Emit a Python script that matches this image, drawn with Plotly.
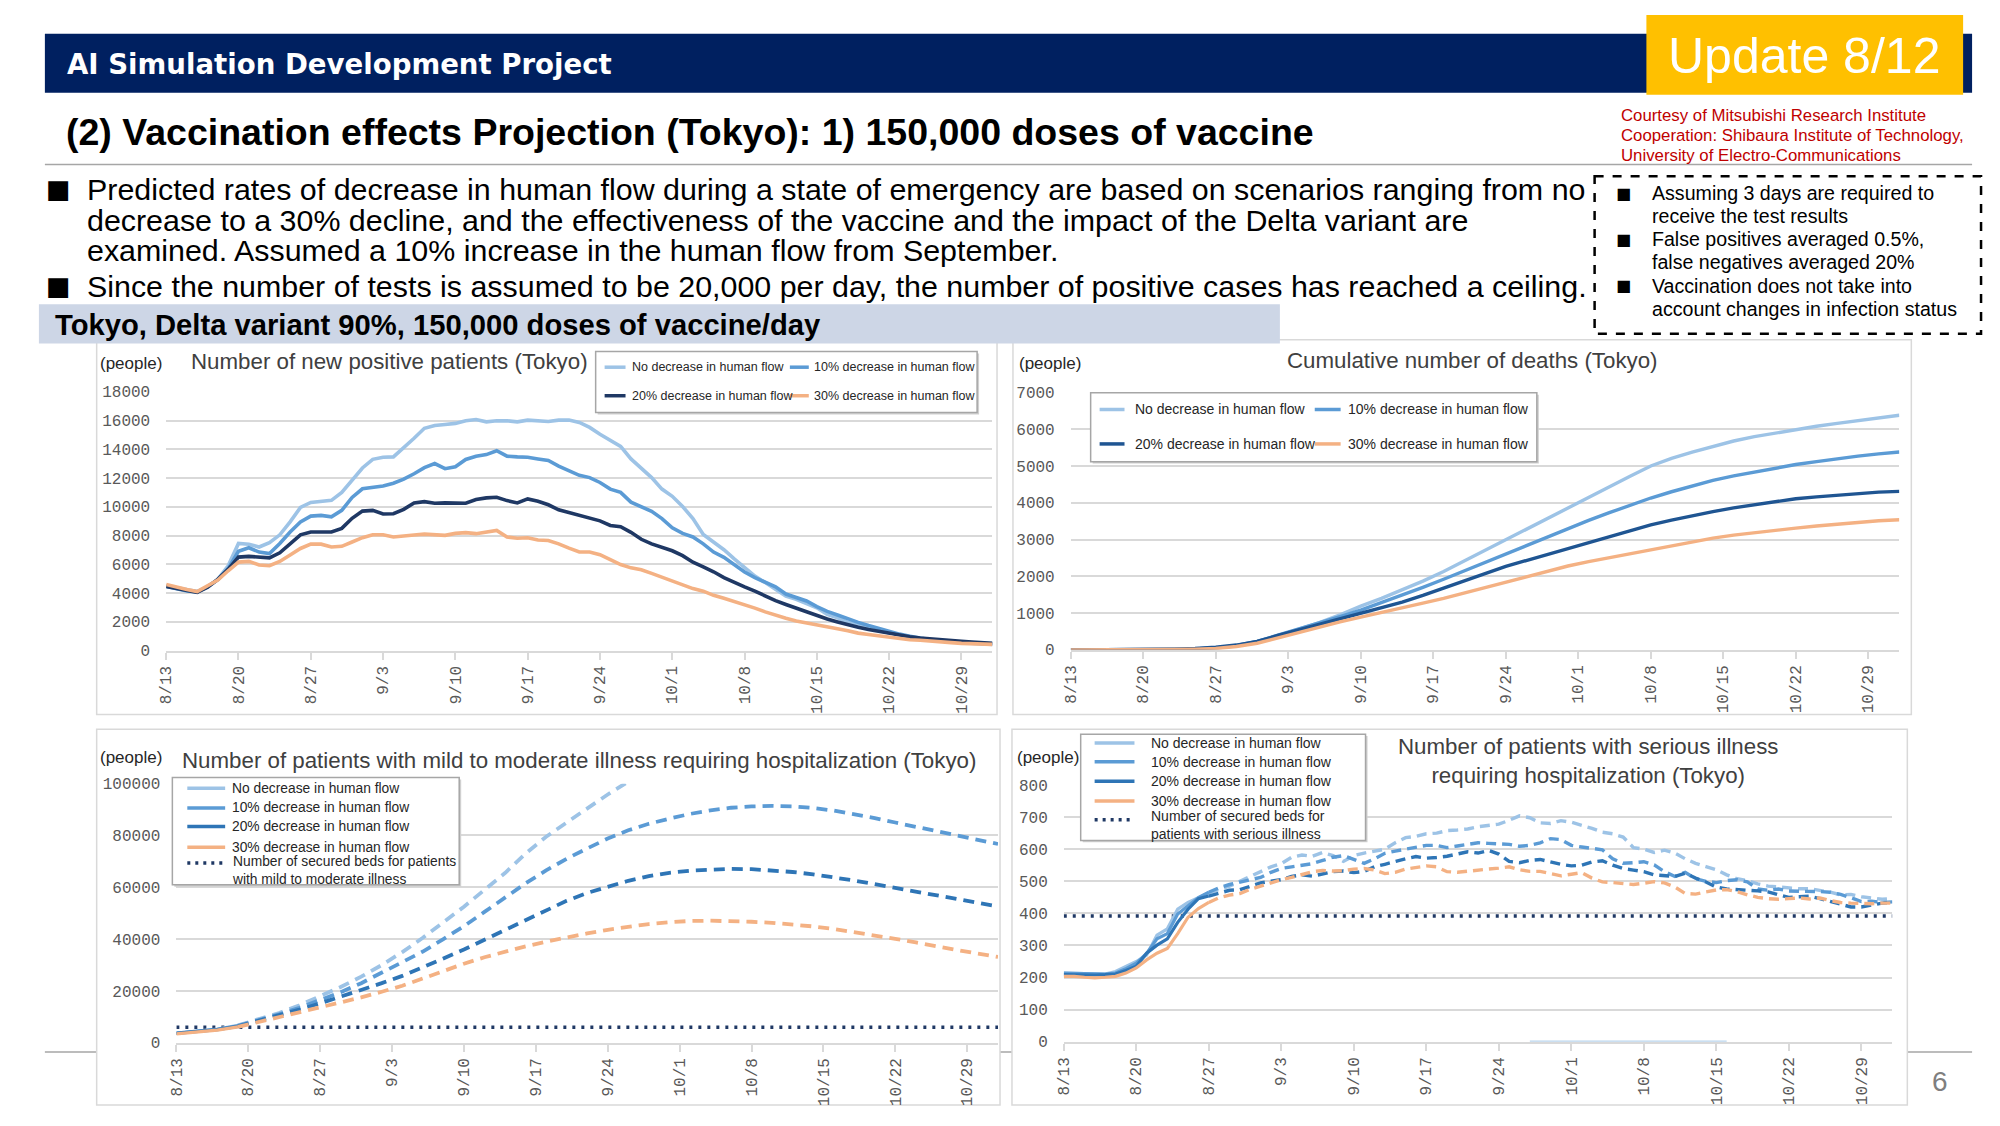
import pandas as pd
import plotly.graph_objects as go

# The page is photographed with the browser's default 8px body margin around the figure,
# so the figure is sized to fill the 2000x1126 window exactly together with that margin.
PAGE_MARGIN = 8
FIG_W, FIG_H = 2000 - 2 * PAGE_MARGIN, 1126 - 2 * PAGE_MARGIN


def px(x):
    return (x - PAGE_MARGIN) / FIG_W


def py(y):
    return 1 - (y - PAGE_MARGIN) / FIG_H


# ---------------- data ----------------
start_date = "2021-08-13"
dates_daily = pd.date_range(start_date, periods=81, freq="D")
dates_2day = pd.date_range(start_date, periods=41, freq="2D")
tick_dates = pd.date_range(start_date, periods=12, freq="7D")
tick_labels = ["8/13", "8/20", "8/27", "9/3", "9/10", "9/17", "9/24",
               "10/1", "10/8", "10/15", "10/22", "10/29"]

scenario_names = ["No decrease in human flow", "10% decrease in human flow",
                  "20% decrease in human flow", "30% decrease in human flow"]

# Chart 1: number of new positive patients (daily)
new_pos_no = [
    4500, 4350, 4200, 4100, 4450, 4950, 5900, 7450, 7400, 7200,
    7500, 8050, 8950, 9950, 10300, 10350, 10450, 11000, 11900, 12700,
    13300, 13450, 13470, 14090, 14770, 15460, 15660, 15730, 15800, 15980,
    16070, 15910, 15980, 15980, 15910, 16030, 15980, 15930, 16030, 16030,
    15870, 15520, 15040, 14590, 14200, 13330, 12650, 12030, 11230, 10730,
    10020, 9180, 8080, 7530, 7010, 6370, 5800, 5180, 4730, 4250,
    3790, 3560, 3240, 2970, 2510, 2280, 1960, 1760, 1550, 1390,
    1230, 1070, 940, 820, 730, 660, 590, 550, 500, 480,
    430]
new_pos_10 = [
    4450, 4300, 4150, 4080, 4400, 4950, 5700, 6900, 7150, 6850,
    6750, 7450, 8250, 8950, 9350, 9400, 9300, 9750, 10650, 11250,
    11350, 11450, 11640, 11920, 12300, 12720, 13010, 12650, 12780, 13290,
    13520, 13630, 13900, 13520, 13470, 13450, 13330, 13220, 12830, 12490,
    12190, 12030, 11690, 11230, 11000, 10320, 9980, 9680, 9180, 8540,
    8150, 7900, 7420, 6850, 6480, 5940, 5460, 5070, 4730, 4430,
    3930, 3680, 3450, 3060, 2720, 2470, 2190, 1960, 1740, 1530,
    1320, 1140, 1000, 870, 750, 680, 620, 570, 530, 500,
    460]
new_pos_20 = [
    4450, 4300, 4150, 4050, 4400, 4950, 5650, 6500, 6550, 6500,
    6450, 6800, 7450, 8050, 8250, 8250, 8250, 8500, 9200, 9700,
    9750, 9500, 9520, 9820, 10270, 10360, 10250, 10270, 10270, 10250,
    10500, 10620, 10660, 10430, 10270, 10550, 10390, 10140, 9790, 9590,
    9450, 9220, 9020, 8700, 8610, 8220, 7740, 7420, 7210, 6940,
    6600, 6140, 5820, 5480, 5070, 4730, 4430, 4130, 3790, 3470,
    3200, 2950, 2670, 2420, 2190, 1990, 1780, 1620, 1460, 1320,
    1190, 1070, 960, 870, 800, 730, 680, 640, 590, 550,
    500]
new_pos_30 = [
    4600, 4400, 4250, 4100, 4500, 4900, 5550, 6150, 6200, 5950,
    5900, 6200, 6650, 7100, 7400, 7400, 7200, 7250, 7550, 7850,
    8050, 8050, 7900, 7940, 8040, 8100, 8080, 8010, 8150, 8200,
    8130, 8260, 8360, 7900, 7810, 7850, 7690, 7650, 7420, 7120,
    6850, 6850, 6670, 6320, 5980, 5750, 5620, 5370, 5110, 4790,
    4540, 4310, 4130, 3840, 3630, 3420, 3200, 2950, 2690, 2440,
    2240, 2050, 1920, 1830, 1640, 1510, 1370, 1210, 1120, 1030,
    910, 820, 750, 710, 640, 590, 550, 500, 460, 460,
    430]

# Chart 2: cumulative number of deaths (every 2 days)
deaths_no = [0, 0, 2, 5, 10, 15, 25, 50, 110, 220,
             380, 560, 740, 950, 1190, 1400, 1630, 1870, 2130, 2420,
             2710, 3000, 3290, 3570, 3860, 4140, 4430, 4720, 5000, 5210,
             5380, 5540, 5680, 5800, 5900, 6000, 6080, 6160, 6240, 6320,
             6380]
deaths_10 = [0, 0, 2, 5, 10, 15, 25, 55, 120, 230,
             400, 560, 720, 900, 1080, 1280, 1480, 1700, 1920, 2150,
             2380, 2610, 2840, 3070, 3300, 3520, 3730, 3940, 4130, 4300,
             4460, 4610, 4730, 4840, 4940, 5040, 5120, 5200, 5270, 5330,
             5380]
deaths_20 = [0, 0, 2, 5, 10, 20, 35, 70, 130, 230,
             390, 540, 680, 830, 980, 1140, 1300, 1480, 1670, 1870,
             2070, 2270, 2430, 2600, 2760, 2920, 3080, 3240, 3400, 3530,
             3650, 3760, 3860, 3950, 4040, 4110, 4160, 4210, 4260, 4290,
             4310]
deaths_30 = [0, 0, 2, 5, 8, 12, 20, 35, 90, 180,
             330, 480, 620, 760, 890, 1010, 1130, 1270, 1400, 1550,
             1700, 1850, 2000, 2140, 2280, 2400, 2510, 2620, 2730, 2840,
             2940, 3040, 3120, 3190, 3250, 3310, 3370, 3420, 3470, 3510,
             3540]

# Chart 3: mild to moderate patients requiring hospitalization (every 2 days)
mild_no = [3700, 4500, 5300, 6700, 9000, 11500, 14500, 18000, 21500, 25500,
           30000, 35000, 40500, 46500, 52500, 59000, 65500, 73000, 79500, 85000,
           90500, 95800, 100800, None, None, None, None, None, None, None,
           None, None, None, None, None, None, None, None, None, None,
           None]
mild_10 = [3700, 4400, 5200, 6500, 8700, 11000, 13500, 16500, 19500, 23000,
           27000, 30800, 35200, 40000, 45000, 50500, 56000, 61500, 66500, 71000,
           75000, 78800, 82000, 84500, 86500, 88300, 89700, 90700, 91200, 91400,
           91200, 90600, 89600, 88200, 86700, 85000, 83300, 81600, 80000, 78300,
           76700]
mild_20 = [3600, 4300, 5100, 6300, 8400, 10500, 12800, 15200, 17700, 20300,
           23000, 25800, 29000, 32500, 36000, 39800, 43500, 47500, 51200, 54800,
           57800, 60300, 62500, 64300, 65600, 66400, 66900, 67100, 67000, 66600,
           65900, 65000, 63900, 62600, 61200, 59800, 58300, 56800, 55300, 53900,
           52600]
mild_30 = [3400, 4100, 4900, 6100, 8000, 9900, 11800, 13600, 15500, 17500,
           19700, 22000, 24800, 27700, 30500, 33000, 35200, 37200, 39000, 40700,
           42200, 43600, 44800, 45800, 46500, 47000, 47100, 47000, 46700, 46300,
           45700, 44900, 43900, 42700, 41400, 40100, 38700, 37200, 35800, 34400,
           33100]
secured_beds_mild = 6000

# Chart 4: serious patients requiring hospitalization (daily)
serious_no = [
    214, 213, 214, 212, 211, 219, 235, 250, 270, 332,
    352, 413, 434, 449, 464, 474, 485, 500, 515, 530,
    545, 555, 575, 582, 578, 590, 580, 562, 580, 588,
    595, 600, 620, 636, 640, 648, 650, 658, 660, 663,
    670, 675, 678, 690, 704, 698, 682, 680, 689, 684,
    675, 665, 653, 648, 638, 605, 600, 590, 597, 588,
    570, 556, 546, 536, 520, 508, 502, 492, 485, 482,
    480, 477, 477, 472, 466, 458, 459, 452, 447, 444,
    446]
serious_10 = [
    214, 213, 213, 212, 211, 214, 228, 245, 275, 321,
    337, 398, 423, 449, 466, 480, 490, 498, 505, 512,
    528, 540, 545, 551, 555, 565, 575, 580, 568, 556,
    570, 587, 594, 600, 606, 612, 612, 605, 610, 615,
    620, 618, 617, 615, 609, 612, 620, 633, 630, 612,
    607, 603, 598, 570, 556, 558, 561, 551, 530, 515,
    528, 508, 500, 496, 502, 505, 498, 476, 472, 476,
    470, 469, 469, 468, 466, 459, 449, 437, 438, 434,
    436]
serious_20 = [
    209, 208, 207, 208, 209, 211, 222, 235, 276, 301,
    321, 372, 413, 446, 454, 464, 472, 474, 485, 495,
    500, 505, 515, 520, 516, 522, 530, 532, 527, 531,
    545, 553, 562, 570, 577, 572, 574, 578, 585, 592,
    588, 596, 585, 562, 558, 565, 568, 560, 553, 548,
    550, 560, 564, 550, 540, 535, 530, 520, 517, 515,
    525, 510, 498, 482, 476, 475, 472, 470, 467, 458,
    450, 452, 454, 446, 438, 430, 420, 420, 425, 432,
    434]
serious_30 = [
    204, 204, 201, 199, 201, 204, 214, 230, 255, 276,
    291, 337, 388, 415, 434, 449, 457, 462, 475, 485,
    495, 505, 512, 522, 530, 534, 532, 533, 538, 540,
    535, 524, 528, 538, 544, 548, 545, 530, 528, 532,
    535, 538, 541, 545, 536, 531, 531, 524, 517, 522,
    527, 510, 498, 496, 494, 490, 494, 499, 495, 482,
    462, 460, 467, 473, 474, 468, 458, 450, 446, 444,
    446, 448, 445, 448, 440, 434, 432, 431, 430, 432,
    432]
secured_beds_serious = 392
serious_zero_segment_dates = ["2021-09-27", "2021-10-16"]
serious_zero_segment_values = [0, 0]

# ---------------- styles ----------------
C_NO = "#9DC3E6"
C_10 = "#5B9BD5"
C_20_NEW = "#1F3864"
C_20_DEATH = "#1F5592"
C_20_HOSP = "#2E75B6"
C_30 = "#F4B183"
C_BEDS = "#1F3864"
GRID = "#D9D9D9"
TICKFONT = dict(family="Liberation Mono", size=16, color="#595959")
x_start = pd.Timestamp(start_date)
x_end = x_start + pd.Timedelta(days=80)

fig = go.Figure()


def add_line(x, y, color, width, ax, dash="solid"):
    fig.add_trace(go.Scatter(x=x, y=y, mode="lines", line=dict(color=color, width=width, dash=dash),
                             xaxis=ax[0], yaxis=ax[1], showlegend=False, hoverinfo="skip",
                             connectgaps=False))


# Chart 1
for vals, col in [(new_pos_no, C_NO), (new_pos_10, C_10), (new_pos_20, C_20_NEW), (new_pos_30, C_30)]:
    add_line(dates_daily, vals, col, 3.6, ("x", "y"))

# Chart 2
for vals, col in [(deaths_no, C_NO), (deaths_10, C_10), (deaths_20, C_20_DEATH), (deaths_30, C_30)]:
    add_line(dates_2day, vals, col, 3.4, ("x2", "y2"))

# Chart 3 (solid actual part, dashed projection)
split3 = 3
add_line([dates_2day[0], dates_2day[-1]], [secured_beds_mild, secured_beds_mild], C_BEDS, 3.5, ("x3", "y3"), "3px,6px")
for vals, col in [(mild_no, C_NO), (mild_10, C_10), (mild_20, C_20_HOSP), (mild_30, C_30)]:
    add_line(dates_2day[:split3 + 1], vals[:split3 + 1], col, 3.2, ("x3", "y3"))
    add_line(dates_2day[split3:], vals[split3:], col, 3.8, ("x3", "y3"), "11px,7px")

# Chart 4
split4 = 14
add_line([dates_daily[0], dates_daily[-1]], [secured_beds_serious, secured_beds_serious], C_BEDS, 3.5, ("x4", "y4"), "3px,6px")
add_line(pd.to_datetime(serious_zero_segment_dates), serious_zero_segment_values, "rgba(157,195,230,0.7)", 2.5, ("x4", "y4"))
for vals, col in [(serious_no, C_NO), (serious_10, C_10), (serious_20, C_20_HOSP), (serious_30, C_30)]:
    add_line(dates_daily[:split4 + 1], vals[:split4 + 1], col, 3.2, ("x4", "y4"))
    add_line(dates_daily[split4:], vals[split4:], col, 3.4, ("x4", "y4"), "10px,6px")


def xaxis(x0, x1, anchor):
    return dict(domain=[px(x0), px(x1)], anchor=anchor, type="date", range=[x_start, x_end],
                tickmode="array", tickvals=tick_dates, ticktext=tick_labels, tickangle=-90,
                tickfont=TICKFONT, showgrid=False, showline=True, linecolor=GRID, linewidth=2,
                ticks="outside", ticklen=7, tickwidth=1.5, tickcolor=GRID, zeroline=False,
                fixedrange=True)


def yaxis(y_bottom, y_top, anchor, top, step):
    return dict(domain=[py(y_bottom), py(y_top)], anchor=anchor, range=[0, top], tick0=0, dtick=step,
                tickformat="d", showgrid=True, gridcolor=GRID, gridwidth=2, showline=False,
                zeroline=False, ticks="", tickfont=TICKFONT, ticklabelstandoff=15, fixedrange=True)


shapes = []
annotations = []


def rect(x0, y0, x1, y1, fill="rgba(0,0,0,0)", line_color="rgba(0,0,0,0)", width=0, dash="solid", layer="below"):
    shapes.append(dict(type="rect", xref="paper", yref="paper", x0=px(x0), x1=px(x1), y0=py(y0), y1=py(y1),
                       fillcolor=fill, line=dict(color=line_color, width=width, dash=dash), layer=layer))


def seg(x0, x1, y, color, width, dash="solid", layer="above"):
    shapes.append(dict(type="line", xref="paper", yref="paper", x0=px(x0), x1=px(x1), y0=py(y), y1=py(y),
                       line=dict(color=color, width=width, dash=dash), layer=layer))


def text(x, y, s, size, color="#000000", family="Liberation Sans", xanchor="left", align="left"):
    annotations.append(dict(x=px(x), y=py(y), xref="paper", yref="paper", text=s, showarrow=False,
                            xanchor=xanchor, yanchor="middle", align=align,
                            font=dict(family=family, size=size, color=color)))


# background elements
seg(37, 1972, 1062, "#A6A6A6", 1.5, layer="below")
rect(89, 338, 993, 719, fill="white", line_color=GRID, width=1.5)
rect(1009, 338, 1911, 719, fill="white", line_color=GRID, width=1.5)
rect(89, 734, 996, 1116, fill="white", line_color=GRID, width=1.5)
rect(1008, 734, 1907, 1116, fill="white", line_color=GRID, width=1.5)

# header
rect(37, 27, 1972, 87, fill="#002060")
rect(1645, 8, 1963, 89, fill="#FFC000")
text(57, 58, "<b>AI Simulation Development Project</b>", 27.6, "white", "DejaVu Sans")
text(1803, 50, "Update 8/12", 50, "white", "Liberation Sans", xanchor="center")
text(56, 127, "<b>(2) Vaccination effects Projection (Tokyo): 1) 150,000 doses of vaccine</b>", 37.5, "#000000")
seg(37, 1972, 160, "#A6A6A6", 1.5, layer="below")
for yy, s in [(110, "Courtesy of Mitsubishi Research Institute"),
              (130, "Cooperation: Shibaura Institute of Technology,"),
              (151, "University of Electro-Communications")]:
    text(1617, yy, s, 16.8, "#C00000")

# bullets
text(51, 185, "■", 26, "#000000", "DejaVu Sans", xanchor="center")
text(51, 283, "■", 26, "#000000", "DejaVu Sans", xanchor="center")
text(77, 185, "Predicted rates of decrease in human flow during a state of emergency are based on scenarios ranging from no", 30.4)
text(77, 216, "decrease to a 30% decline, and the effectiveness of the vaccine and the impact of the Delta variant are", 30.4)
text(77, 247, "examined. Assumed a 10% increase in the human flow from September.", 30.4)
text(77, 283, "Since the number of tests is assumed to be 20,000 per day, the number of positive cases has reached a ceiling.", 30.4)

# dashed note box
rect(1593, 172, 1981, 332, line_color="#000000", width=2.5, dash="dash", layer="above")
note_lines = ["Assuming 3 days are required to", "receive the test results",
              "False positives averaged 0.5%,", "false negatives averaged 20%",
              "Vaccination does not take into", "account changes in infection status"]
for i, s in enumerate(note_lines):
    yy = 189 + 23.5 * i
    text(1649, yy, s, 19.6)
    if i % 2 == 0:
        text(1622, yy, "■", 16, "#000000", "DejaVu Sans", xanchor="center")

# band
rect(31, 302, 1277, 342, fill="#CDD6E6")
text(45, 323, "<b>Tokyo, Delta variant 90%, 150,000 doses of vaccine/day</b>", 29.2)

# chart titles and units
text(90, 362, "(people)", 17, "#262626")
text(182, 360, "Number of new positive patients (Tokyo)", 22.3, "#404040")
text(1013, 362, "(people)", 17, "#262626")
text(1470, 359, "Cumulative number of deaths (Tokyo)", 22.3, "#404040", xanchor="center")
text(90, 763, "(people)", 17, "#262626")
text(173, 766, "Number of patients with mild to moderate illness requiring hospitalization (Tokyo)", 22.3, "#404040")
text(1011, 763, "(people)", 17, "#262626")
text(1586, 766, "Number of patients with serious illness<br>requiring hospitalization (Tokyo)", 22.3, "#404040",
     xanchor="center", align="center")


def legend_box(x0, y0, x1, y1):
    rect(x0 + 2, y0 + 2, x1 + 2, y1 + 2, fill="#D0D0D0", layer="above")
    rect(x0, y0, x1, y1, fill="white", line_color="#A6A6A6", width=1.5, layer="above")


def legend_item(lx0, lx1, y, color, tx, label, size, dash="solid", width=3.5):
    seg(lx0, lx1, y, color, width, dash)
    text(tx, y, label, size, "#262626")


# legend chart 1
legend_box(590, 350, 973, 412)
legend_item(599, 620, 366, C_NO, 624, scenario_names[0], 12.5)
legend_item(785, 804, 366, C_10, 807, scenario_names[1], 12.5)
legend_item(599, 620, 395, C_20_NEW, 624, scenario_names[2], 12.5)
legend_item(785, 804, 395, C_30, 807, scenario_names[3], 12.5)

# legend chart 2
legend_box(1087, 392, 1535, 462)
legend_item(1096, 1121, 409, C_NO, 1130, scenario_names[0], 14)
legend_item(1312, 1338, 409, C_10, 1343, scenario_names[1], 14)
legend_item(1096, 1121, 444, C_20_DEATH, 1130, scenario_names[2], 14)
legend_item(1312, 1338, 444, C_30, 1343, scenario_names[3], 14)

# legend chart 3
legend_box(165, 783, 453, 892)
legend_item(180, 218, 794, C_NO, 223, scenario_names[0], 13.8)
legend_item(180, 218, 814, C_10, 223, scenario_names[1], 13.8)
legend_item(180, 218, 833, C_20_HOSP, 223, scenario_names[2], 13.8)
legend_item(180, 218, 854, C_30, 223, scenario_names[3], 13.8)
seg(180, 218, 870, C_BEDS, 3.5, "3px,5px")
text(223, 878, "Number of secured beds for patients<br>with mild to moderate illness", 13.8, "#262626")

# legend chart 4
legend_box(1077, 739, 1363, 847)
legend_item(1091, 1131, 748, C_NO, 1146, scenario_names[0], 14)
legend_item(1091, 1131, 767, C_10, 1146, scenario_names[1], 14)
legend_item(1091, 1131, 787, C_20_HOSP, 1146, scenario_names[2], 14)
legend_item(1091, 1131, 807, C_30, 1146, scenario_names[3], 14)
seg(1091, 1131, 826, C_BEDS, 3.5, "3px,5px")
text(1146, 831, "Number of secured beds for<br>patients with serious illness", 14, "#262626")

# page number
text(1940, 1092, "6", 28, "#7F7F7F", xanchor="center")

fig.update_layout(
    width=FIG_W, height=FIG_H, margin=dict(l=0, r=0, t=0, b=0),
    paper_bgcolor="white", plot_bgcolor="rgba(0,0,0,0)", showlegend=False,
    xaxis=xaxis(158.8, 988.4, "y"), yaxis=yaxis(654, 391, "x", 18000, 2000),
    xaxis2=xaxis(1067, 1899, "y2"), yaxis2=yaxis(653.3, 391.7, "x2", 7000, 1000),
    xaxis3=xaxis(169, 994, "y3"), yaxis3=yaxis(1052.7, 789.3, "x3", 100000, 20000),
    xaxis4=xaxis(1060, 1892, "y4"), yaxis4=yaxis(1051.7, 790.7, "x4", 800, 100),
    shapes=shapes, annotations=annotations,
)

fig.write_html("out.html", config={"displayModeBar": False})
